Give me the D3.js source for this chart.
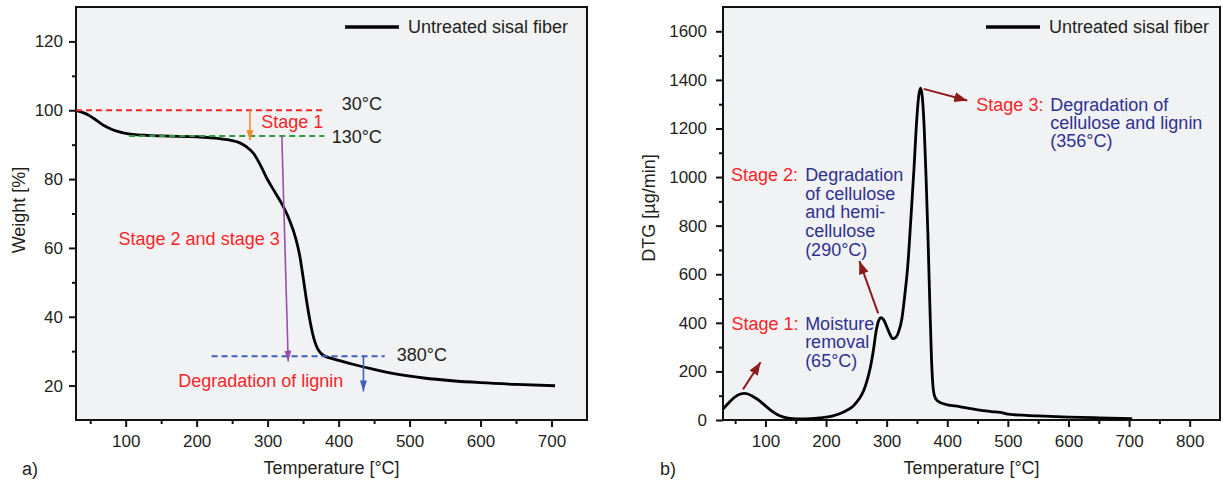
<!DOCTYPE html>
<html>
<head>
<meta charset="utf-8">
<script src="https://cdn.jsdelivr.net/npm/d3@7"></script>
<style>
  body { margin: 0; background: #fff; }
  svg text { font-family: "Liberation Sans", Arial, Helvetica, sans-serif; }
</style>
</head>
<body>
<svg id="chart" width="1223" height="485"></svg>
<script>
// ---- TGA curve: weight vs temperature ----
const tgaTemp   = [30, 40, 50, 60, 70, 80, 90, 100, 110, 130, 160, 200, 230, 250, 260, 270, 280, 290, 300, 310, 320, 330, 340, 345, 350, 355, 360, 365, 370, 375, 380, 390, 400, 420, 450, 480, 520, 560, 600, 650, 705];
const tgaWeight = [99.9, 99.3, 98.3, 96.9, 95.5, 94.5, 93.8, 93.3, 93.0, 92.7, 92.5, 92.3, 91.8, 91.2, 90.6, 89.4, 87.5, 84.0, 79.8, 76.3, 72.8, 68.5, 62.5, 58.0, 51.5, 44.5, 38.5, 33.8, 30.9, 29.4, 28.6, 27.9, 27.3, 26.2, 24.7, 23.4, 22.2, 21.4, 20.85, 20.35, 19.95];

// ---- DTG curve: mass loss rate vs temperature ----
const dtgTemp = [30, 40, 50, 60, 65, 70, 80, 90, 100, 110, 120, 130, 145, 165, 190, 210, 230, 245, 255, 262, 268, 273, 278, 283, 287, 291, 295, 300, 305, 310, 315, 320, 325, 330, 335, 340, 345, 350, 353, 356, 359, 362, 365, 368, 371, 374, 377, 380, 385, 395, 420, 450, 480, 490, 500, 550, 600, 650, 705];
const dtgRate = [45, 72, 95, 108, 110, 108, 96, 80, 58, 38, 22, 12, 6, 5, 9, 16, 34, 58, 88, 120, 165, 215, 285, 370, 410, 421, 412, 385, 355, 335, 340, 365, 415, 515, 640, 830, 1030, 1250, 1335, 1366, 1325, 1200, 1000, 770, 500, 250, 125, 92, 77, 66, 55, 42, 33, 30, 24, 17, 12, 9, 6];

// ---- axis ticks ----
const tgaXTicks = [100, 200, 300, 400, 500, 600, 700];
const tgaXMinor = [50, 150, 250, 350, 450, 550, 650];
const tgaYTicks = [20, 40, 60, 80, 100, 120];
const tgaYMinor = [30, 50, 70, 90, 110];
const dtgXTicks = [100, 200, 300, 400, 500, 600, 700, 800];
const dtgXMinor = [50, 150, 250, 350, 450, 550, 650, 750];
const dtgYTicks = [0, 200, 400, 600, 800, 1000, 1200, 1400, 1600];
const dtgYMinor = [100, 300, 500, 700, 900, 1100, 1300, 1500];

const seriesName = "Untreated sisal fiber";

const svg = d3.select("#chart");
const defs = svg.append("defs");

function arrowMarker(id, color, w, h) {
  defs.append("marker")
    .attr("id", id)
    .attr("viewBox", `0 0 ${w} ${h}`)
    .attr("refX", w).attr("refY", h / 2)
    .attr("markerWidth", w).attr("markerHeight", h)
    .attr("markerUnits", "userSpaceOnUse")
    .attr("orient", "auto")
    .append("path")
    .attr("d", `M0,0 L${w},${h / 2} L0,${h} Z`)
    .attr("fill", color);
}
arrowMarker("arr-orange", "#f28a2e", 10, 7);
arrowMarker("arr-purple", "#9a4eae", 11, 7);
arrowMarker("arr-blue", "#4060b8", 11, 7);
arrowMarker("arr-dred", "#8e1b1b", 13, 10);

function buildPanel(cfg) {
  const g = svg.append("g");
  const x = d3.scaleLinear().domain(cfg.xDomain).range([cfg.left, cfg.right]);
  const y = d3.scaleLinear().domain(cfg.yDomain).range([cfg.bottom, cfg.top]);

  g.append("rect")
    .attr("x", cfg.left).attr("y", cfg.top)
    .attr("width", cfg.right - cfg.left).attr("height", cfg.bottom - cfg.top)
    .attr("fill", "#f1f2f3");

  const styleAxis = sel => {
    sel.select(".domain").remove();
    sel.selectAll(".tick line").attr("stroke", "#111").attr("stroke-width", 2);
    sel.selectAll(".tick text").attr("fill", "#231f20").style("font-size", "17px");
  };

  // x axis: minor then major ticks
  g.append("g").attr("transform", `translate(0,${cfg.bottom})`)
    .call(d3.axisBottom(x).tickValues(cfg.xMinor).tickSize(4).tickFormat(""))
    .call(styleAxis);
  g.append("g").attr("transform", `translate(0,${cfg.bottom})`)
    .call(d3.axisBottom(x).tickValues(cfg.xTicks).tickSize(7).tickPadding(8).tickFormat(d3.format("d")))
    .call(styleAxis);

  // y axis: minor then major ticks
  g.append("g").attr("transform", `translate(${cfg.left},0)`)
    .call(d3.axisLeft(y).tickValues(cfg.yMinor).tickSize(4).tickFormat(""))
    .call(styleAxis);
  g.append("g").attr("transform", `translate(${cfg.left},0)`)
    .call(d3.axisLeft(y).tickValues(cfg.yTicks).tickSize(7).tickPadding(cfg.yPad).tickFormat(d3.format("d")))
    .call(styleAxis);

  // frame
  g.append("rect")
    .attr("x", cfg.left).attr("y", cfg.top)
    .attr("width", cfg.right - cfg.left).attr("height", cfg.bottom - cfg.top)
    .attr("fill", "none").attr("stroke", "#111").attr("stroke-width", 2);

  // axis titles and panel letter
  g.append("text")
    .attr("x", (cfg.left + cfg.right) / 2).attr("y", 468).attr("dy", "0.35em")
    .attr("text-anchor", "middle").style("font-size", "18px").attr("fill", "#231f20")
    .text("Temperature [°C]");
  g.append("text")
    .attr("transform", `translate(${cfg.yTitleX},${cfg.yTitleY}) rotate(-90)`)
    .attr("dy", "0.35em")
    .attr("text-anchor", "middle").style("font-size", "18px").attr("fill", "#231f20")
    .text(cfg.yTitle);
  g.append("text")
    .attr("x", cfg.letterX).attr("y", 469).attr("dy", "0.35em")
    .style("font-size", "18px").attr("fill", "#231f20")
    .text(cfg.letter);

  // legend
  g.append("line")
    .attr("x1", cfg.legendX).attr("x2", cfg.legendX + 54)
    .attr("y1", 27).attr("y2", 27)
    .attr("stroke", "#000").attr("stroke-width", 3.5);
  g.append("text")
    .attr("x", cfg.legendX + 63).attr("y", 27).attr("dy", "0.35em")
    .style("font-size", "18px").attr("fill", "#231f20")
    .text(seriesName);

  // data curve
  const pts = cfg.xs.map((t, i) => [t, cfg.ys[i]]);
  const clipId = "clip-" + cfg.letter.replace(")", "");
  defs.append("clipPath").attr("id", clipId).append("rect")
    .attr("x", cfg.left).attr("y", cfg.top)
    .attr("width", cfg.right - cfg.left).attr("height", cfg.bottom - cfg.top);
  g.append("path")
    .datum(pts)
    .attr("clip-path", `url(#${clipId})`)
    .attr("fill", "none").attr("stroke", "#000")
    .attr("stroke-width", 2.8).attr("stroke-linejoin", "round")
    .attr("d", d3.line().x(d => x(d[0])).y(d => y(d[1])).curve(d3.curveMonotoneX));

  return { g, x, y };
}

// ---------- panel a) TGA ----------
const A = buildPanel({
  left: 76, right: 587, top: 7, bottom: 420,
  xDomain: [30, 750], yDomain: [10, 130],
  xTicks: tgaXTicks, xMinor: tgaXMinor, yTicks: tgaYTicks, yMinor: tgaYMinor,
  yPad: 6, yTitle: "Weight [%]", yTitleX: 19, yTitleY: 210,
  letter: "a)", letterX: 22, legendX: 345,
  xs: tgaTemp, ys: tgaWeight
});

function dashed(P, t0, t1, w, color) {
  P.g.append("line")
    .attr("x1", P.x(t0)).attr("x2", P.x(t1))
    .attr("y1", P.y(w)).attr("y2", P.y(w))
    .attr("stroke", color).attr("stroke-width", 2)
    .attr("stroke-dasharray", "6,4");
}
function arrow(P, t0, v0, t1, v1, color, marker, width) {
  P.g.append("line")
    .attr("x1", P.x(t0)).attr("y1", P.y(v0))
    .attr("x2", P.x(t1)).attr("y2", P.y(v1))
    .attr("stroke", color).attr("stroke-width", width)
    .attr("marker-end", `url(#${marker})`);
}
function label(P, t, v, txt, color, anchor) {
  P.g.append("text")
    .attr("x", P.x(t)).attr("y", P.y(v)).attr("dy", "0.35em")
    .attr("text-anchor", anchor || "start")
    .style("font-size", "18px").attr("fill", color)
    .text(txt);
}

const RED = "#f5262a", BLUE = "#2f3191", DARK = "#231f20";

dashed(A, 30, 380, 100, "#ee2b2b");
dashed(A, 105, 380, 92.5, "#2f9a3c");
dashed(A, 221, 465, 28.5, "#3f5fbf");
label(A, 461, 102, "30°C", DARK, "end");
label(A, 461, 92.3, "130°C", DARK, "end");
label(A, 482, 29, "380°C", DARK, "start");
arrow(A, 275, 100, 275, 91.3, "#f28a2e", "arr-orange", 1.6);
label(A, 291, 96.6, "Stage 1", RED, "start");
arrow(A, 320, 92.5, 329, 27, "#9a4eae", "arr-purple", 1.6);
label(A, 317, 62.7, "Stage 2 and stage 3", RED, "end");
arrow(A, 435, 28.5, 435, 18.3, "#4060b8", "arr-blue", 1.6);
label(A, 174, 21.5, "Degradation of lignin", RED, "start");

// ---------- panel b) DTG ----------
const B = buildPanel({
  left: 723, right: 1220, top: 7, bottom: 420,
  xDomain: [30, 850], yDomain: [0, 1700],
  xTicks: dtgXTicks, xMinor: dtgXMinor, yTicks: dtgYTicks, yMinor: dtgYMinor,
  yPad: 9, yTitle: "DTG [µg/min]", yTitleX: 649, yTitleY: 208,
  letter: "b)", letterX: 660, legendX: 986,
  xs: dtgTemp, ys: dtgRate
});

const DR = "#8e1b1b";
arrow(B, 63, 126, 92, 238, DR, "arr-dred", 2);
arrow(B, 286, 439, 255, 654, DR, "arr-dred", 2);
arrow(B, 361, 1363, 433, 1315, DR, "arr-dred", 2);

label(B, 44, 398, "Stage 1:", RED);
[["Moisture", 398], ["removal", 322], ["(65°C)", 245]]
  .forEach(([s, v]) => label(B, 165.5, v, s, BLUE));

label(B, 43, 1010, "Stage 2:", RED);
[["Degradation", 1010], ["of cellulose", 933], ["and hemi-", 857], ["cellulose", 781], ["(290°C)", 703]]
  .forEach(([s, v]) => label(B, 165.5, v, s, BLUE));

label(B, 448, 1298, "Stage 3:", RED);
[["Degradation of", 1298], ["cellulose and lignin", 1223], ["(356°C)", 1148]]
  .forEach(([s, v]) => label(B, 570, v, s, BLUE));
</script>
</body>
</html>
